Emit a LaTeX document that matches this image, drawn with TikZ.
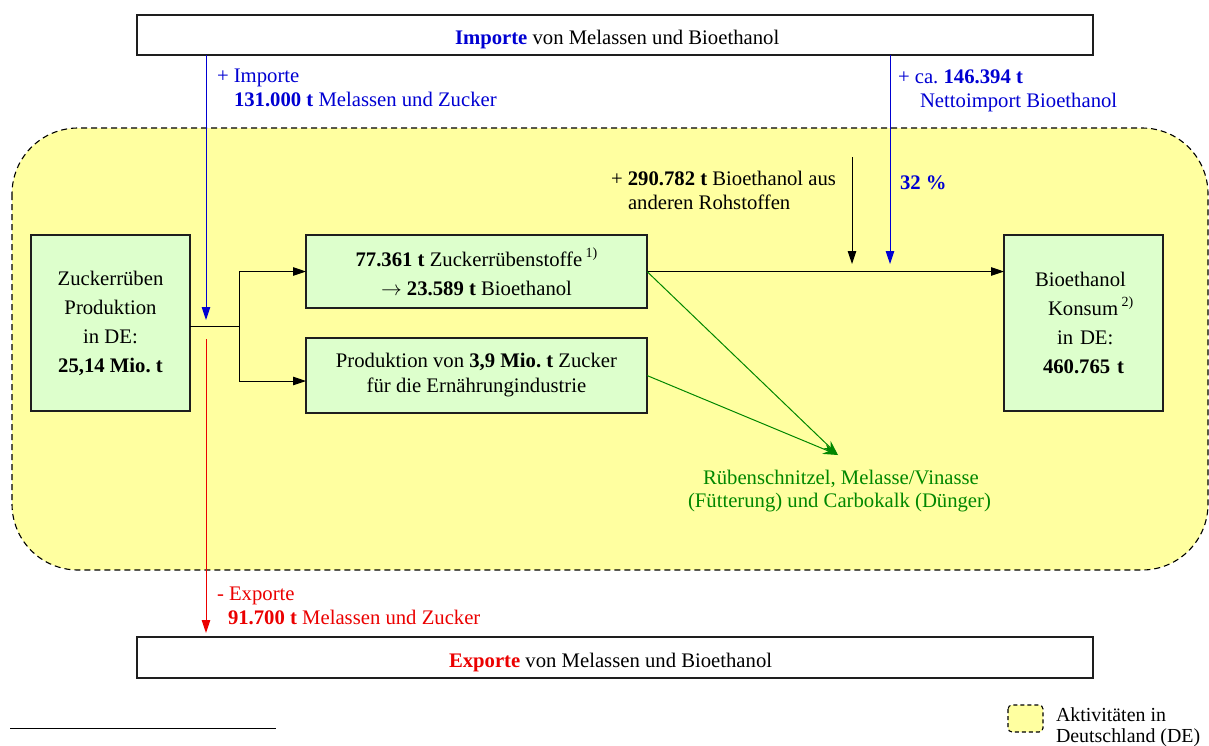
\documentclass[tikz,border=0pt]{standalone}
\usepackage{fontspec}
\setmainfont{Liberation Serif}
\usetikzlibrary{arrows.meta,calc}
\definecolor{yel}{RGB}{255,255,160}
\definecolor{grbox}{RGB}{221,255,204}
\definecolor{impblue}{RGB}{0,0,210}
\definecolor{expred}{RGB}{235,0,0}
\definecolor{grn}{RGB}{0,135,0}
\definecolor{edgec}{RGB}{30,30,30}
\newcommand\supx[1]{\raisebox{0.42em}{\fontsize{14}{14}\selectfont #1}}
\begin{document}
\frenchspacing
\begin{tikzpicture}[x=1pt,y=-1pt,
  every node/.style={font=\fontsize{20.7}{25}\selectfont, inner sep=0pt, outer sep=0pt},
  gbox/.style={draw=edgec, line width=1.3pt, fill=grbox, align=center, font=\fontsize{20.7}{29}\selectfont},
  gbox2/.style={draw=edgec, line width=1.3pt, fill=grbox, align=center, font=\fontsize{20.7}{25}\selectfont},
  wbox/.style={draw=edgec, line width=1.3pt, fill=white},
  arr/.style={line width=1pt, -{Triangle[length=13pt,width=8.5pt]}},
  plain/.style={line width=1pt},
  region/.style={draw=black, line width=1.1pt, dash pattern=on 6pt off 4pt, fill=yel},
  lbl/.style={anchor=base west}]
\useasboundingbox (0,0) rectangle (1209,745);

% region
\draw[region, rounded corners=66pt] (12,128) rectangle (1208,570);

% boxes
\node[wbox, minimum width=956pt, minimum height=40pt] (top) at (615,35) {};
\node[lbl] (toptext) at (455,44) {\textbf{\color{impblue}Importe} von Melassen und Bioethanol};
\node[wbox, minimum width=956pt, minimum height=41pt] (bot) at (615,657.5) {};
\node[lbl] (bottext) at (449,667) {\textbf{\color{expred}Exporte} von Melassen und Bioethanol};

\node[gbox, minimum width=159pt, minimum height=176pt] (A) at (110.5,323)
  {Zuckerrüben\\Produktion\\in DE:\\\textbf{25,14 Mio. t}};
\node[gbox, minimum width=341pt, minimum height=73pt] (B) at (476.5,271.5)
  {\textbf{77.361 t} Zuckerrübenstoffe\,\supx{1)}\\$\rightarrow$ \textbf{23.589 t} Bioethanol};
\node[gbox2, minimum width=341pt, minimum height=75pt] (C) at (476.5,375.5)
  {Produktion von \textbf{3,9 Mio. t} Zucker\\für die Ernährungindustrie};
\node[gbox, align=left, minimum width=159pt, minimum height=176pt, text width=100pt] (D) at (1083.5,323)
  {\hspace*{1.5pt}Bioethanol\\\hspace*{14.5pt}Konsum\,\supx{2)}\\\hspace*{23.5pt}in DE:\\\hspace*{9.5pt}\textbf{460.765 t}};

% coordinates
\coordinate (impEnd) at (206,320);
\coordinate (expStart) at (206,339);
\coordinate (branch) at (239,326);
\coordinate (cIn) at (306,381);
\coordinate (otherTop) at (852,157);
\coordinate (otherEnd) at (852,264);
\coordinate (netEnd) at (890,264);
\coordinate (gtip) at (838,455);

% connectors
\draw[plain] (A.east |- branch) -- (branch);
\draw[arr] (branch) |- (B.west);
\draw[arr] (branch) |- (cIn);
\draw[arr] (B.east) -- (B.east -| D.west);
\draw[arr] (otherTop) -- (otherEnd);
\draw[arr, impblue] (top.south -| impEnd) -- (impEnd);
\draw[arr, impblue] (top.south -| netEnd) -- (netEnd);
\draw[arr, expred, shorten >=4pt] (expStart) -- (expStart |- bot.north);
\draw[line width=1pt, grn, -{Stealth[length=15pt,width=10pt]}] (B.east) -- (gtip);
\draw[line width=1pt, grn, -{Stealth[length=15pt,width=10pt]}] (C.east) -- (gtip);

% labels
\node[lbl, text=impblue] (imp1) at (217,82) {+ Importe};
\node[lbl, text=impblue] (imp2) at (234,106) {\textbf{131.000 t} Melassen und Zucker};
\node[lbl, text=impblue] (net1) at (898,83) {+ ca. \textbf{146.394 t}};
\node[lbl, text=impblue] (net2) at (920,107) {Nettoimport Bioethanol};
\node[lbl] (oth1) at (611,185) {+ \textbf{290.782 t} Bioethanol aus};
\node[lbl] (oth2) at (628,209) {anderen Rohstoffen};
\node[lbl, text=impblue] (pct) at (900,189) {\textbf{32 \%}};
\node[lbl, text=expred] (exp1) at (217,600) {- Exporte};
\node[lbl, text=expred] (exp2) at (228,624) {\textbf{91.700 t} Melassen und Zucker};
\node[lbl, text=grn] (g1) at (703,484) {Rübenschnitzel, Melasse/Vinasse};
\node[lbl, text=grn] (g2) at (688,507) {(Fütterung) und Carbokalk (Dünger)};

% footnote rule
\draw[line width=1pt] (10,728) -- (276,728);

% legend
\draw[region, dash pattern=on 4pt off 3pt, rounded corners=4pt] (1008,705) rectangle (1043,732);
\node[lbl, font=\fontsize{19.9}{22}\selectfont] (leg1) at (1056,721) {Aktivitäten in};
\node[lbl, font=\fontsize{19.9}{22}\selectfont] (leg2) at (1056,742) {Deutschland (DE)};
\end{tikzpicture}
\end{document}
